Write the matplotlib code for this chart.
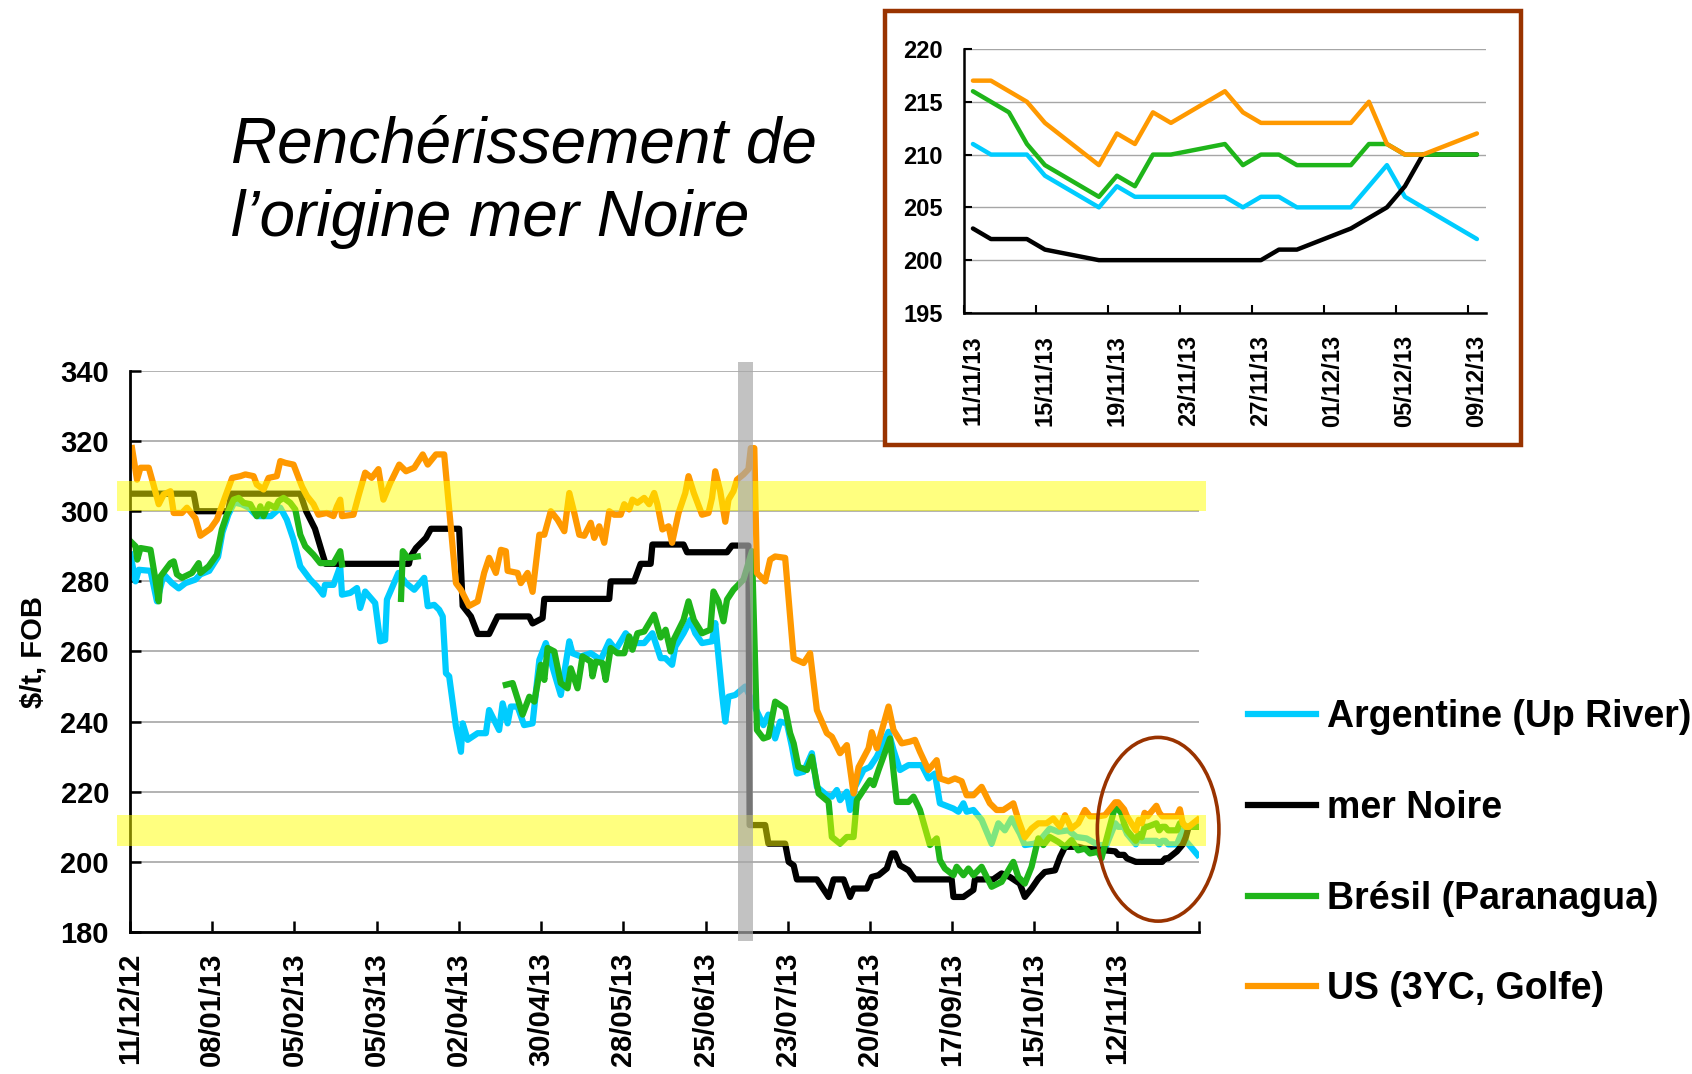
import numpy as np
import pandas as pd
import matplotlib
matplotlib.use('Agg')
import matplotlib.pyplot as plt
from matplotlib.patches import Rectangle, Ellipse

plt.rcParams['font.family'] = 'Liberation Sans'

START = pd.Timestamp('2012-12-11')

# main chart, x = days since 11/12/12, y = $/t FOB
arg_days = [0.2, 1.9, 3, 7, 9.2, 11.5, 14.3, 16.6, 18.9, 22.3, 24, 27, 30, 31.5, 33.5, 35.5, 38, 40.5,
            43.2, 48, 51.2, 53.4, 55.7, 58, 61.4, 63.6, 65.8, 66.4, 69.3, 71.6, 72.2, 75, 77.3, 78.4,
            80.1, 83.5, 85.2, 86.9, 87.5, 91.4, 94, 96.8, 100.2, 101.4, 103.6, 105.3, 106.5, 107.6,
            108.7, 111, 112.7, 113.3, 115, 118.4, 121.2, 122.3, 125.7, 126.9, 128.6, 129.7, 132, 134.2,
            137.1, 139.4, 141.6, 144.5, 146.7, 149.6, 150.7, 153.5, 156.9, 160.3, 163.2, 165.4, 168.8,
            171.7, 175.1, 177.9, 180.7, 182.3, 184.6, 185.7, 188.5, 190.8, 192.5, 194.8, 198.2, 199.3,
            201.6, 202.7, 203.8, 206.1, 209.5, 215.7, 217.4, 219.7, 221.4, 223.7, 225.4, 227.1, 229.4,
            232.2, 233.9, 237.3, 239, 240.7, 241.8, 244.1, 245.2, 246.9, 249.8, 252, 254.3, 258.3, 260,
            262.2, 265.1, 269.6, 271.9, 274.1, 275.8, 280.4, 282.1, 283.8, 284.9, 287.2, 290, 293.4,
            295.7, 297.9, 300.2, 303, 304.7, 308.1, 310.4, 313.2, 316.1, 319.5, 322.3, 325.7, 329.7,
            332.5]
arg_vals = [287.6, 280, 283.3, 283, 274.3, 282, 279.5, 278, 279.5, 280.5, 282, 283, 287, 294, 299, 302.5,
            302, 301, 298.6, 298.6, 301, 297.6, 291.9, 284.3, 280.5, 278.6, 276.2, 279, 279, 284.3, 276.2,
            276.7, 278.1, 272.4, 277.1, 273.8, 262.9, 263.3, 274.8, 282.4, 279.5, 277.6, 281, 272.9,
            273.3, 271.9, 270, 253.8, 252.9, 238.6, 231.4, 239.5, 234.8, 236.7, 236.7, 243.3, 237.6,
            245.2, 239.5, 244.3, 244.3, 239, 239.5, 257.6, 262.4, 253.8, 247.6, 262.9, 259.5, 258.6,
            259.5, 257.6, 262.9, 260.5, 265.2, 262.4, 262.4, 265.2, 258.1, 258.1, 256.2, 261.4, 265.2,
            269, 265.2, 262.4, 262.9, 268.1, 248.1, 240, 247.1, 247.6, 250, 239, 242, 235.2, 240, 239.5,
            232.9, 225.2, 225.7, 231, 221.4, 219, 218.6, 220.5, 217.6, 220, 214.8, 221.4, 226.2, 227.1,
            230, 237.1, 231.9, 226.2, 227.6, 227.6, 223.8, 225.2, 216.7, 215.2, 214.3, 216.7, 214.3,
            214.8, 212, 205.2, 211, 209, 212.4, 208.1, 204.8, 205.2, 206.7, 209.5, 208.6, 209, 207.1,
            206.7, 204.8, 204.8]

noire_days = [0.2, 21.7, 22.8, 33.5, 34.5, 58, 60, 63, 65.5, 66.6, 95, 95.5, 97.4, 100.8, 102.5, 112.1,
              113.3, 116.1, 118.4, 122.3, 125.2, 135.9, 137.1, 140.5, 141.1, 163.2, 163.7, 171.7, 173.9,
              177.3, 177.9, 188.5, 189.7, 203.3, 205, 210.6, 211, 216.3, 217.4, 223.1, 224.3, 226,
              227.1, 233.9, 237.9, 239.6, 243, 245.2, 246.4, 250.9, 252.6, 254.9, 257.7, 259.4, 260.5,
              262.2, 265.1, 267.3, 279.8, 280.4, 283.8, 287.2, 287.7, 293.9, 296.8, 299.6, 303, 304.7,
              307, 309.3, 311.5, 315, 316.7, 318.4, 322.9, 325.2, 331.9]
noire_vals = [305, 305, 300, 300, 305, 305, 300, 295, 288, 285, 285, 287, 289.5, 292.4, 295, 295,
              273, 270, 265, 265, 270, 270, 268, 269.5, 275, 275, 280, 280, 285, 285, 290.5, 290.5,
              288.3, 288.3, 290.2, 290.2, 210.5, 210.5, 205.2, 205.2, 200, 199, 195, 195, 190, 195,
              195, 190, 192.4, 192.4, 195.7, 196.2, 198.1, 202.4, 202.4, 199, 197.6, 195, 195, 190,
              190, 192, 195, 195, 196.7, 195.7, 193.8, 190, 192.4, 195.2, 197.1, 197.6, 201.4, 204.3,
              204.3, 203.8, 203.3]

# None = no quotation (gap in the Brazilian series)
bres_days = [0.2, 1.9, 2.5, 3.6, 7, 8.5, 9.8, 10.4, 13.8, 14.9, 16, 17.7, 21.1, 23.4, 24, 26.8, 29.6,
             31.3, 33, 35.3, 37, 38.7, 41, 43.2, 44.4, 45.5, 47.2, 49.5, 50.6, 52.3, 54.6, 56.3, 58,
             59.7, 62.5, 64.8, 69.3, 71.6, 72.2, 80, 92.3, 92.9, 94.6, 98, 110,
             128, 130.3, 133.7, 136, 137.7, 139.9, 141.1, 142.2, 144.5, 146.7, 149, 150.1, 152.4, 154.1,
             156.9, 157.5, 158.6, 160.9, 162, 163.7, 166, 168.3, 170, 171.1, 172.8, 175.1, 178.5, 180.7,
             182.4, 184.1, 185.1, 188.5, 190.2, 192, 194.8, 197.6, 198.7, 200.4, 202.1, 203.3, 205.5,
             208.9, 211.8, 213.5, 215.7, 217.4, 219.7, 223.1, 224.8, 226, 227.6, 230.5, 232.2, 234.5,
             237.9, 239, 241.8, 244.1, 246.4, 247.5, 249.8, 252, 253.2, 254.9, 258.8, 261.1, 265.1,
             266.8, 269, 272.4, 274.7, 275.8, 277.5, 280.4, 281.5, 283.8, 285.5, 287.2, 290, 293.4,
             296.8, 298.5, 300.8, 302.5, 304.7, 307, 309.3, 311, 313.2, 316.1, 318.4, 320.6, 322.9,
             325.2, 326.9, 329.7, 330.8]
bres_vals = [291.4, 290, 286.2, 289.5, 289, 281.4, 274.3, 281.4, 285.2, 285.7, 282, 281, 282.4, 285.2,
             282.4, 284.3, 287.6, 294.8, 299, 303.3, 303.8, 302.4, 302, 298.6, 301.4, 298.6, 302, 301,
             302.9, 303.8, 302.4, 300.5, 293.3, 290, 287.6, 285.2, 285.2, 288.6, 284.8, None, 275, 288.6,
             286.7, 287.1, None,
             250.5, 251, 242, 247.1, 245.7, 256.2, 251.9, 261, 260, 251, 249.5, 255.2, 249.5, 258.6,
             257.1, 252.9, 257.1, 256.7, 251.9, 261, 259.5, 259.5, 264.3, 260.5, 265.2, 265.7, 270.5,
             264, 266.2, 260, 263.3, 269, 274.3, 269, 265.2, 266.2, 277.1, 274.3, 268.6, 274.8, 277.6,
             280.5, 288.6, 237.6, 235.2, 235.7, 245.7, 243.8, 236.7, 233.8, 227.1, 226.2, 230, 219.5,
             217.1, 207.1, 205.2, 207.1, 207.1, 217.6, 220.5, 223.3, 221.9, 226.2, 235.2, 217.1, 217.1,
             218.6, 214.8, 204.8, 206.7, 200.5, 198.1, 196.2, 198.6, 196.2, 198.1, 196.2, 198.6, 192.9,
             194.3, 196.7, 200, 195.7, 193.8, 198.6, 206.7, 204.8, 207.1, 205.7, 204.3, 206.2, 203.3,
             203.8, 202.4, 202.9, 201]

us_days = [0.7, 2.4, 3.6, 6.4, 8, 9.8, 11.5, 13.8, 14.9, 17.7, 19.4, 22.3, 24, 27.4, 29.6, 32.5, 34.8,
           37.6, 39.3, 42.1, 43.2, 45.5, 47.2, 50, 51.2, 52.9, 55.7, 58.6, 60.3, 62.5, 64.2, 67, 69.3,
           70.5, 71.6, 72.2, 76.1, 77.8, 80.1, 82.3, 84.6, 86.3, 88.6, 91.7, 94, 96.8, 99.7, 101.4,
           104.2, 107, 108.7, 111, 112.7, 115.5, 118.4, 120.6, 122.3, 124.6, 126.3, 128, 128.6, 132,
           133.1, 135.4, 137.1, 139.4, 141.1, 143.3, 145.6, 147.9, 149.6, 151.3, 153, 154.7, 156.9,
           158.1, 159.8, 161.5, 163.2, 164.9, 167.1, 168.3, 170, 171.1, 172.8, 175.1, 176.8, 178.5,
           179.6, 181.3, 183.4, 184.6, 186.8, 189.1, 190.2, 192, 194.8, 197, 198.2, 199.3, 201, 202.7,
           203.8, 205.5, 206.7, 208.9, 210.6, 211.4, 212.6, 213.5, 216.3, 218, 219.7, 223.1, 226,
           229.4, 231.6, 233.9, 237.3, 239, 241.8, 244.1, 246.4, 248.1, 251.5, 252.6, 254.3, 258.3,
           260, 262.8, 265.6, 267.3, 269, 271.9, 274.7, 275.8, 278.7, 280.9, 283.2, 284.9, 287.2, 290,
           292.8, 295.1, 297.4, 300.8, 302.5, 304.7, 307, 309.3, 312.1, 314.4, 316.7, 318.4, 320.6,
           322.9, 325.2, 326.9, 329.7, 332]
us_vals = [318, 309, 312.4, 312.4, 307.6, 302, 304.8, 305.7, 299.5, 299.5, 301, 298, 293, 295, 297.6,
           304.3, 309.5, 310, 310.5, 310, 307.6, 306.2, 309.5, 310, 314.3, 313.8, 313.3, 307, 304.3, 302,
           299, 299.5, 298.6, 301.4, 303.3, 298.6, 299, 304.3, 311, 309.5, 312, 303.3, 308, 313.3, 311.4,
           312.4, 316.2, 313.3, 316.2, 316.2, 300.5, 279.5, 277.6, 273, 274.3, 282.4, 286.7, 282.4, 289,
           288.6, 283, 282.4, 279.5, 282.4, 277, 293.3, 293.3, 300, 297.6, 294.3, 305.2, 299.5, 293.3,
           293, 296.7, 292.4, 295.7, 291, 300, 299, 299, 302, 300.5, 303.3, 302.4, 303.8, 302, 305.2,
           302, 294.8, 295.7, 291, 299.5, 305.2, 310, 305.2, 299, 299.5, 303.8, 311.4, 305.7, 297,
           303.3, 305.7, 309, 310.5, 312, 318, 318, 282.4, 280, 286.2, 287.1, 286.7, 258, 256.7, 259.5,
           243.3, 236.7, 235.7, 231, 233.3, 219.5, 227, 232.4, 237, 232.4, 244.3, 237.6, 233.8, 234.3,
           234.8, 231.4, 226.2, 229, 223.8, 223, 223.8, 223, 219, 219, 221.4, 216.7, 214.8, 214.8,
           216.7, 212, 207, 209.5, 211, 211, 212.4, 210, 213.3, 209.5, 211, 214.8, 213, 213, 213.3]

# inset: daily quotations 11/11/13 - 09/12/13
inset_dates = ['11/11/13', '12/11/13', '13/11/13', '14/11/13', '15/11/13',
               '18/11/13', '19/11/13', '20/11/13', '21/11/13', '22/11/13',
               '25/11/13', '26/11/13', '27/11/13', '28/11/13', '29/11/13',
               '02/12/13', '03/12/13', '04/12/13', '05/12/13', '06/12/13', '09/12/13']
inset_arg = [211, 210, 210, 210, 208, 205, 207, 206, 206, 206, 206, 205, 206, 206, 205,
             205, 207, 209, 206, 205, 202]
inset_noire = [203, 202, 202, 202, 201, 200, 200, 200, 200, 200, 200, 200, 200, 201, 201,
               203, 204, 205, 207, 210, 210]
inset_bres = [216, 215, 214, 211, 209, 206, 208, 207, 210, 210, 211, 209, 210, 210, 209,
              209, 211, 211, 210, 210, 210]
inset_us = [217, 217, 216, 215, 213, 209, 212, 211, 214, 213, 216, 214, 213, 213, 213,
            213, 215, 211, 210, 210, 212]

labels = ['Argentine (Up River)', 'mer Noire', 'Brésil (Paranagua)', 'US (3YC, Golfe)']
colors = ['#00ccff', '#000000', '#1fb51a', '#ff9900']

inset_x = (pd.to_datetime(inset_dates, format='%d/%m/%y') - START).days.values + 0.5

main_series = [
    (arg_days, arg_vals, inset_arg),
    (noire_days, noire_vals, inset_noire),
    (bres_days, bres_vals, inset_bres),
    (us_days, us_vals, inset_us),
]

fig = plt.figure(figsize=(16.92, 10.74), dpi=100)
ax = fig.add_axes([0.0768, 0.1322, 0.6318, 0.5224])

handles = []
for (d, v, tail), c in zip(main_series, colors):
    x = np.concatenate([np.array(d, dtype=float), inset_x])
    y = np.concatenate([np.array(v, dtype=float), np.array(tail, dtype=float)])
    ln, = ax.plot(x, y, color=c, lw=4.5, solid_joinstyle='round', zorder=2)
    handles.append(ln)

ax.set_xlim(0, 364)
ax.set_ylim(180, 340)
ax.set_yticks(np.arange(180, 341, 20))
xt = np.arange(0, 365, 28)
ax.set_xticks(xt)
xlabels = [(START + pd.Timedelta(days=int(d))).strftime('%d/%m/%y') for d in xt[:-1]] + ['']
ax.set_xticklabels(xlabels, rotation=90, va='top', ha='center')
ax.grid(axis='y', color='#a6a6a6', lw=1.2)
ax.set_axisbelow(True)
for s in ['top', 'right']:
    ax.spines[s].set_visible(False)
for s in ['left', 'bottom']:
    ax.spines[s].set_linewidth(2)
ax.tick_params(direction='in', length=8, width=1.8, labelsize=21, pad=15)
for lab in ax.get_xticklabels() + ax.get_yticklabels():
    lab.set_fontweight('bold')

# highlighted price zones and harvest marker
for lo, hi in [(300, 308.5), (204.6, 213.3)]:
    ax.add_patch(Rectangle((-4.5, lo), 371, hi - lo, facecolor='#ffff00', alpha=0.5,
                           edgecolor='none', clip_on=False, zorder=3))
ax.add_patch(Rectangle((207, 177.5), 5, 165, facecolor='#a8a8a8', alpha=0.7,
                       edgecolor='none', clip_on=False, zorder=3))
ax.add_patch(Ellipse((350.1, 209.3), 41.4, 52.4, fill=False, edgecolor='#993300', lw=2.6,
                     clip_on=False, zorder=5))

fig.text(0.0198, 0.393, r'\$/t, FOB', rotation=90, fontsize=21, fontweight='bold',
         ha='center', va='center')

fig.text(0.1365, 0.849, 'Renchérissement de', fontsize=46, style='italic', ha='left', va='baseline')
fig.text(0.1365, 0.780, 'l\u2019origine mer Noire', fontsize=46, style='italic', ha='left',
         va='baseline')

fig.legend(handles, labels, loc='upper left', bbox_to_anchor=(0.7376, 0.349), frameon=False,
           prop={'weight': 'bold', 'size': 27}, handlelength=1.8, handletextpad=0.3,
           labelspacing=1.46, borderpad=0, borderaxespad=0)

# inset with its brown frame
fig.add_artist(Rectangle((0.523, 0.5857), 0.376, 0.4041, transform=fig.transFigure,
                         facecolor='white', edgecolor='#993300', lw=3.2, zorder=1))
axi = fig.add_axes([0.5697, 0.7086, 0.3085, 0.2458], zorder=2)
for vals, c in zip([inset_arg, inset_noire, inset_bres, inset_us], colors):
    axi.plot(inset_x, vals, color=c, lw=3.2, solid_joinstyle='round', solid_capstyle='round')
axi.set_xlim(335, 364)
axi.set_ylim(195, 220)
axi.set_yticks(np.arange(195, 221, 5))
it = np.arange(335, 364, 4)
axi.set_xticks(it)
axi.set_xticklabels([])
axi.set_xticks(it + 0.5, minor=True)
axi.set_xticklabels([(START + pd.Timedelta(days=int(d))).strftime('%d/%m/%y') for d in it],
                    minor=True, rotation=90, va='top', ha='center')
axi.tick_params(which='major', direction='in', length=6, width=1.5, labelsize=17, pad=15)
axi.tick_params(which='minor', length=0, labelsize=17, pad=16)
axi.grid(axis='y', color='#a6a6a6', lw=1)
axi.set_axisbelow(True)
for s in ['top', 'right']:
    axi.spines[s].set_visible(False)
for s in ['left', 'bottom']:
    axi.spines[s].set_linewidth(1.8)
for lab in axi.get_xticklabels(minor=True) + axi.get_yticklabels():
    lab.set_fontweight('bold')

fig.savefig('out.png', dpi=100)
